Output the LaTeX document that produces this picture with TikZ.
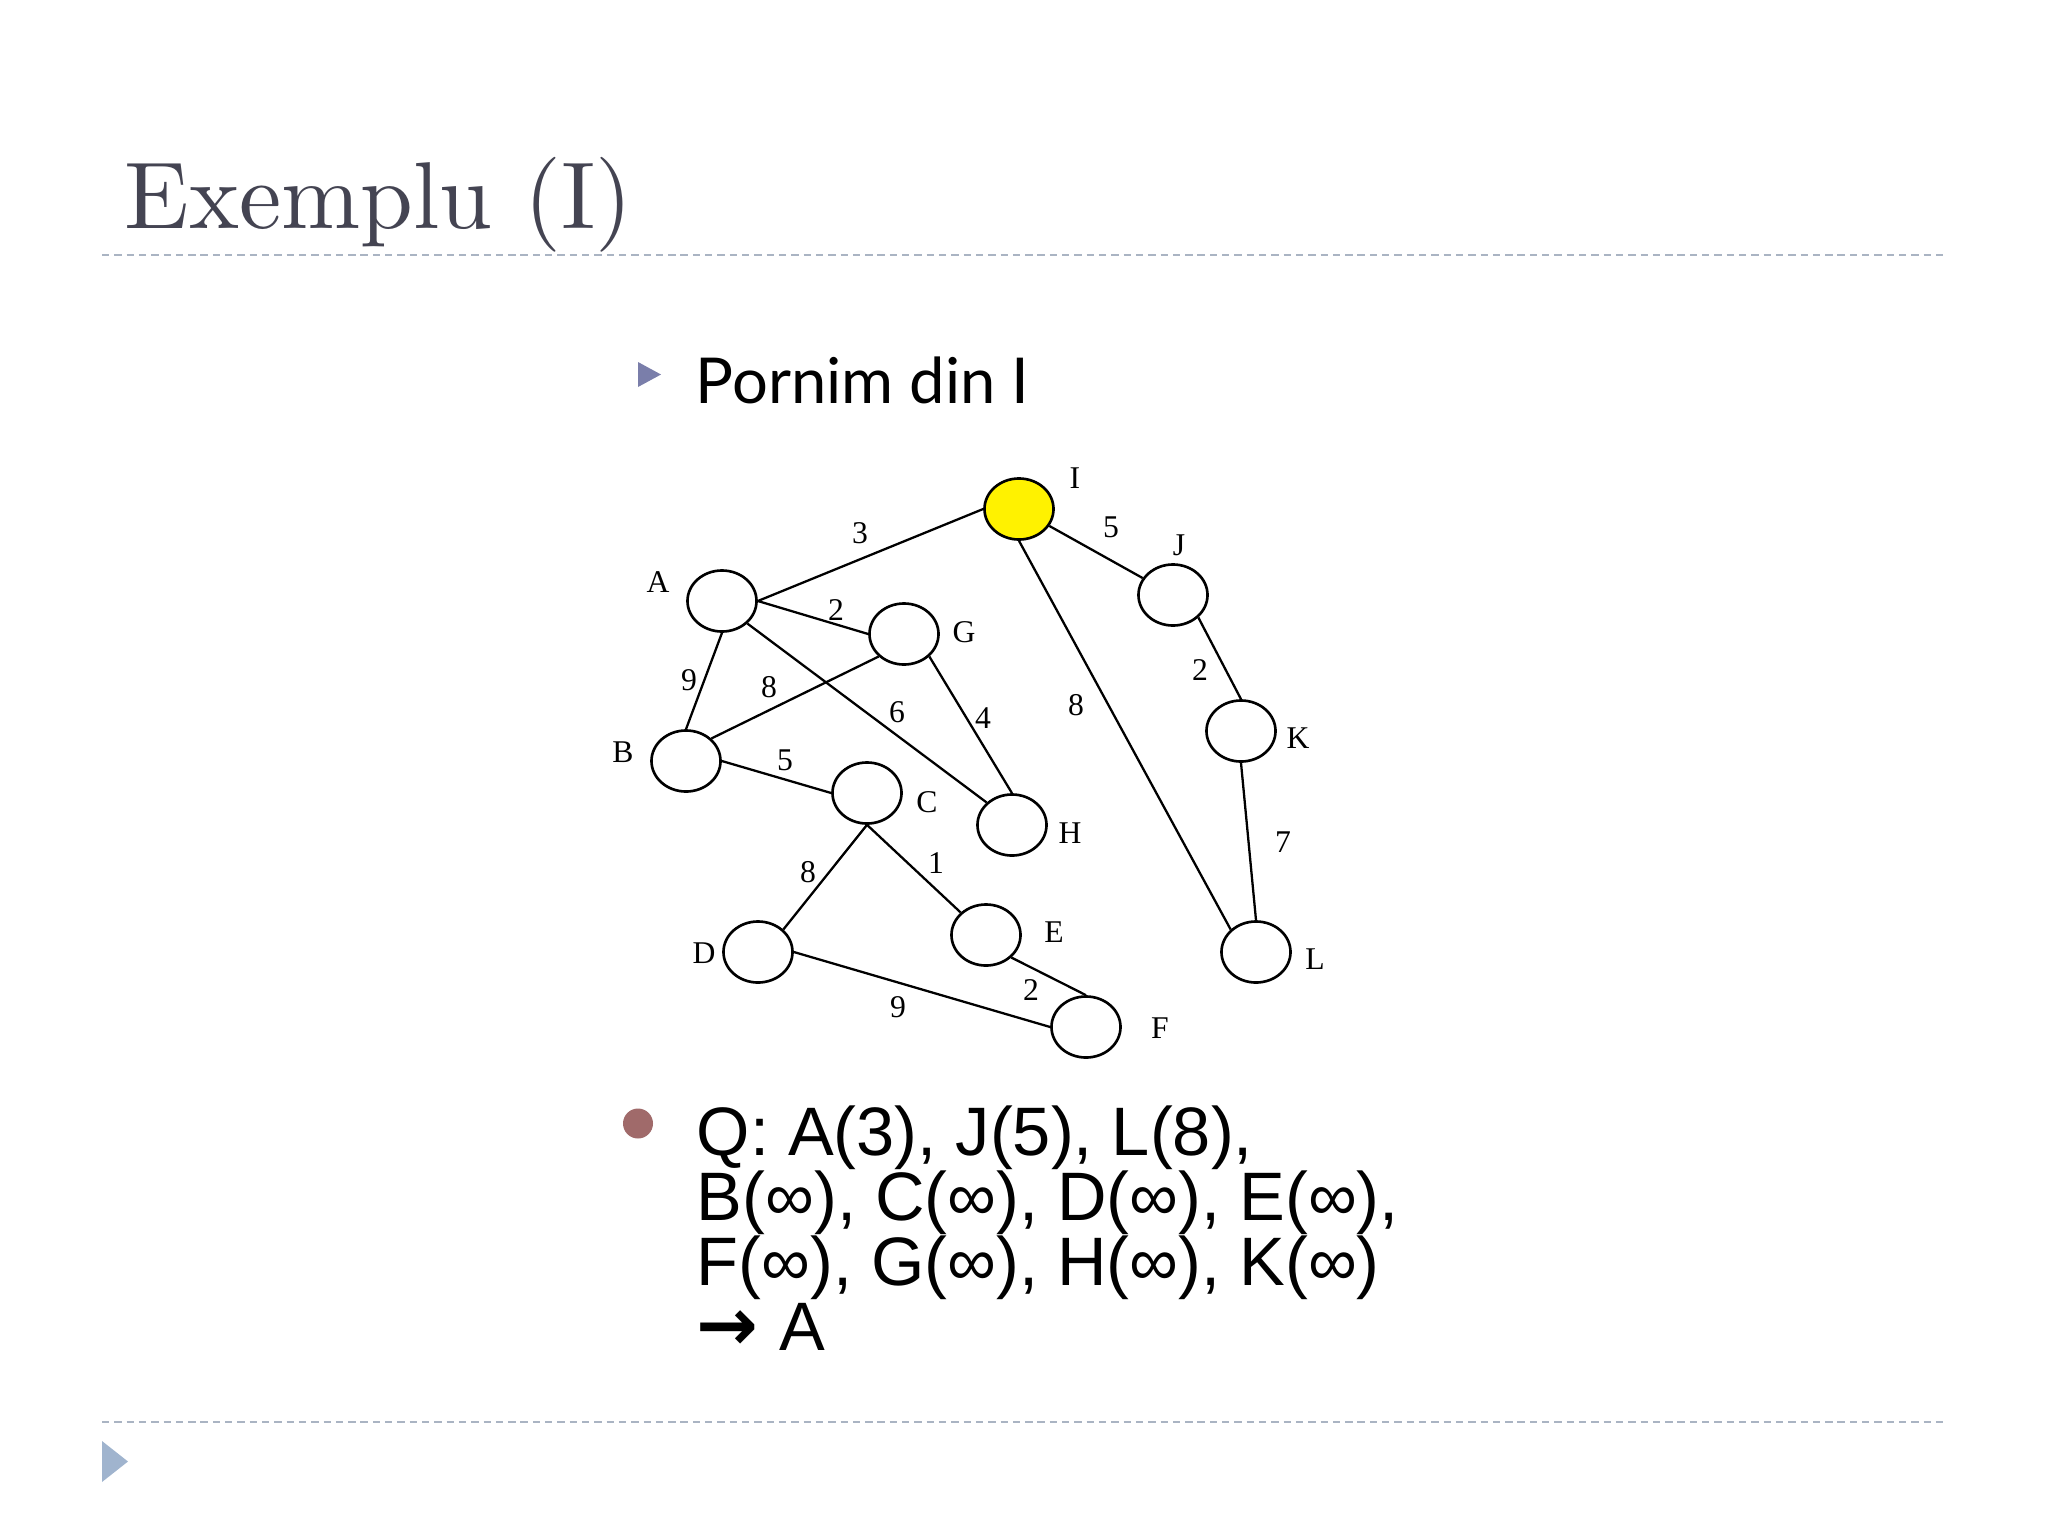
\documentclass[tikz,border=0pt]{standalone}
\usepackage{fontspec}
\usepackage{tikz}
\usetikzlibrary{shapes.geometric}
\newfontfamily\titlefont{lmroman10-regular.otf}
\newfontfamily\graphfont{Liberation Serif}
\newfontfamily\bodyfont{Liberation Sans}
\newfontfamily\headfont{Lato}
\newfontfamily\arrowfont{DejaVu Sans}
\definecolor{titlegray}{RGB}{68,68,82}
\definecolor{rulegray}{RGB}{170,180,195}
\definecolor{bulletblue}{RGB}{122,126,170}
\definecolor{cornerblue}{RGB}{160,180,206}
\definecolor{bulletred}{RGB}{160,106,106}
\tikzstyle{vertex}=[ellipse,draw,line width=0.75pt,minimum width=0.69cm,minimum height=0.61cm,inner sep=0pt]
\tikzstyle{startvertex}=[vertex,fill=yellow]
\tikzstyle{vname}=[font=\graphfont\fontsize{9}{9}\selectfont,inner sep=0pt]
\tikzstyle{weight}=[font=\graphfont\fontsize{9}{9}\selectfont,inner sep=0pt]
\tikzstyle{link}=[draw,line width=0.65pt]
\tikzstyle{sliderule}=[draw=rulegray,line width=0.55pt,dash pattern=on 2.1pt off 1.4pt]
\tikzstyle{qline}=[anchor=base west,inner sep=0pt,font=\bodyfont\fontsize{19.5}{19.5}\selectfont]

\begin{document}
\begin{tikzpicture}[x=0.01cm,y=-0.01cm]
  \useasboundingbox (0,0) rectangle (2048,1536);
  % title and rules
  \node[anchor=base west,inner sep=0pt,text=titlegray,font=\titlefont\fontsize{27}{27}\selectfont] (title) at (124,228) {Exemplu (I)};
  \draw[sliderule] (102,255) -- (1946,255);
  \draw[sliderule] (102,1422) -- (1946,1422);
  \fill[cornerblue] (102,1441) -- (102,1482) -- (128,1461.5) -- cycle;
  % heading
  \fill[bulletblue] (638,362) -- (638,387) -- (661,374.5) -- cycle;
  \node[anchor=base west,inner sep=0pt,font=\headfont\fontsize{18}{18}\selectfont] (heading) at (695,403) {Pornim din I};
  % vertices
  \node[startvertex] (I) at (1019,509) {};
  \node[vertex] (J) at (1173,595) {};
  \node[vertex] (K) at (1241,731) {};
  \node[vertex] (L) at (1256,952) {};
  \node[vertex] (A) at (722,601) {};
  \node[vertex] (G) at (904,634) {};
  \node[vertex] (B) at (686,761) {};
  \node[vertex] (C) at (867,793) {};
  \node[vertex] (H) at (1012,825) {};
  \node[vertex] (D) at (758,952) {};
  \node[vertex] (E) at (986,935) {};
  \node[vertex] (F) at (1086,1027) {};
  % names
  \node[vname] (Ilabel) at (1075,478) {I};
  \node[vname] (Jlabel) at (1179,545) {J};
  \node[vname] (Klabel) at (1298,738) {K};
  \node[vname] (Llabel) at (1315,959) {L};
  \node[vname] (Alabel) at (658,582) {A};
  \node[vname] (Glabel) at (964,632) {G};
  \node[vname] (Blabel) at (623,752) {B};
  \node[vname] (Clabel) at (927,802) {C};
  \node[vname] (Hlabel) at (1070,833) {H};
  \node[vname] (Dlabel) at (704,953) {D};
  \node[vname] (Elabel) at (1054,932) {E};
  \node[vname] (Flabel) at (1160,1028) {F};
  % edges
  \draw[link] (A.east) -- (I.west);
  \draw[link] (I) -- (J);
  \draw[link] (I.south) -- (L.north west);
  \draw[link] (J.south east) -- (K.north);
  \draw[link] (K.south) -- (L.north);
  \draw[link] (A.east) -- (G.west);
  \draw[link] (A.south) -- (B.north);
  \draw[link] (A.south east) -- (H.north west);
  \draw[link] (G.south west) -- (B.north east);
  \draw[link] (G.south east) -- (H.north);
  \draw[link] (B.east) -- (C.west);
  \draw[link] (C.south) -- (D.north east);
  \draw[link] (C.south) -- (E.north west);
  \draw[link] (D.east) -- (F.west);
  \draw[link] (E.south east) -- (F.north);
  % weights
  \node[weight] (AIno) at (860,533) {3};
  \node[weight] (IJno) at (1111,527) {5};
  \node[weight] (ILno) at (1076,705) {8};
  \node[weight] (JKno) at (1200,670) {2};
  \node[weight] (KLno) at (1283,842) {7};
  \node[weight] (AGno) at (836,610) {2};
  \node[weight] (ABno) at (689,680) {9};
  \node[weight] (BGno) at (769,687) {8};
  \node[weight] (AHno) at (897,712) {6};
  \node[weight] (GHno) at (983,718) {4};
  \node[weight] (BCno) at (785,760) {5};
  \node[weight] (CDno) at (808,872) {8};
  \node[weight] (CEno) at (936,863) {1};
  \node[weight] (EFno) at (1031,990) {2};
  \node[weight] (DFno) at (898,1007) {9};
  % queue
  \fill[bulletred] (638,1123.5) circle (15);
  \node[qline] (q1) at (696,1155) {Q: A(3), J(5), L(8),};
  \node[qline] (q2) at (696,1220) {B(∞), C(∞), D(∞), E(∞),};
  \node[qline] (q3) at (696,1285) {F(∞), G(∞), H(∞), K(∞)};
  \node[qline] (q4) at (696,1350) {{\arrowfont\bfseries\fontsize{21}{21}\selectfont →}\hspace{6pt}A};
\end{tikzpicture}
\end{document}
